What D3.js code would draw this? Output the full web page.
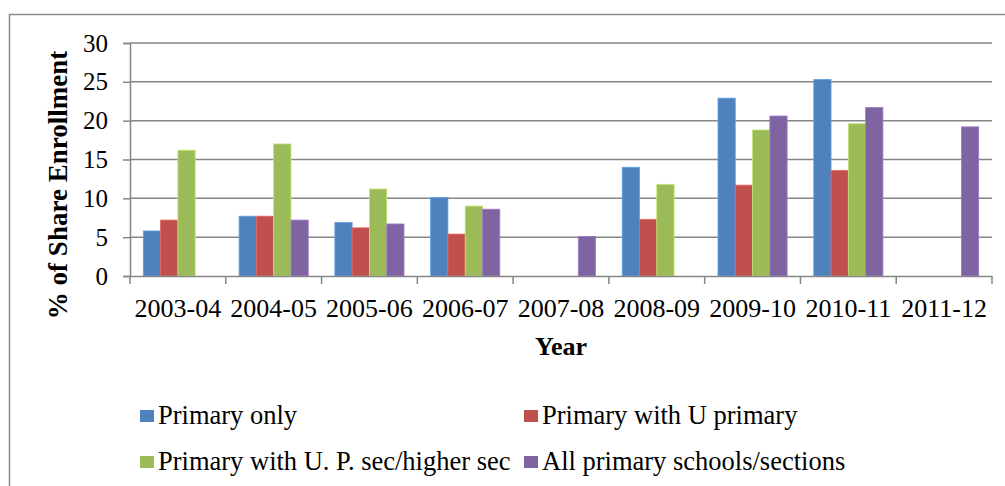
<!DOCTYPE html>
<head>
  <meta charset="utf-8">
  <script src="https://cdn.jsdelivr.net/npm/d3@7"></script>
  <style>
    body { margin:0; background:#fff; }
    text { font-family: "Liberation Serif", "Times New Roman", serif; fill:#000; }
  </style>
</head>
<body>
<script>
const years = ["2003-04","2004-05","2005-06","2006-07","2007-08","2008-09","2009-10","2010-11","2011-12"];
const seriesNames = ["Primary only","Primary with U primary","Primary with U. P. sec/higher sec","All primary schools/sections"];
const colors = ["#4F81BD","#C0504D","#9BBB59","#8064A2"];
// null = no bar for that year
const primaryOnly   = [5.8, 7.7, 6.9, 10.1, null, 14.0, 22.9, 25.3, null];
const primaryWithU  = [7.2, 7.7, 6.2, 5.4,  null, 7.3,  11.7, 13.6, null];
const primaryWithUP = [16.2, 17.0, 11.2, 9.0, null, 11.8, 18.8, 19.6, null];
const allPrimary    = [null, 7.2, 6.7, 8.6, 5.1, null, 20.6, 21.7, 19.2];
const yTicks = [0,5,10,15,20,25,30];

const series = [primaryOnly, primaryWithU, primaryWithUP, allPrimary];

const W = 1005, H = 486;
const m = {left:130, right:13, top:43, bottom:210};

const svg = d3.select("body").append("svg")
    .attr("width", W).attr("height", H);

// outer chart border
svg.append("rect")
    .attr("x", 9.5).attr("y", 14.5)
    .attr("width", W).attr("height", H)
    .attr("fill", "none").attr("stroke", "#8a8a8a").attr("stroke-width", 1.5);

const x0 = d3.scaleBand().domain(years).range([m.left, W - m.right]).paddingInner(0).paddingOuter(0);
const x1 = d3.scaleBand().domain(d3.range(4)).range([0, x0.bandwidth()]).paddingOuter(0.77).paddingInner(0);
const y = d3.scaleLinear().domain([0,30]).range([276, 43]);

// gridlines + y axis
const yAxis = svg.append("g")
    .attr("transform", `translate(${m.left},0)`)
    .call(d3.axisLeft(y).tickValues(yTicks).tickSize(7).tickPadding(15))
    .call(g => g.select(".domain").attr("stroke", "#868686").attr("stroke-width", 1.5));
yAxis.selectAll(".tick line").attr("stroke", "#868686").attr("stroke-width", 1.5);
yAxis.selectAll(".tick text").style("font-size", "25px").style("font-family", "Liberation Serif");

svg.append("g").selectAll("line")
    .data(yTicks.slice(1))
    .join("line")
    .attr("x1", m.left).attr("x2", W - m.right)
    .attr("y1", d => y(d)).attr("y2", d => y(d))
    .attr("stroke", "#868686").attr("stroke-width", 1.5);

// bars
const groups = svg.append("g").selectAll("g")
    .data(years)
    .join("g")
    .attr("transform", d => `translate(${x0(d)},0)`);

groups.selectAll("rect")
    .data((d, i) => series.map((s, k) => ({k, v: s[i]})).filter(e => e.v != null))
    .join("rect")
    .attr("x", d => x1(d.k))
    .attr("width", x1.bandwidth())
    .attr("y", d => y(d.v))
    .attr("height", d => y(0) - y(d.v))
    .attr("fill", d => colors[d.k])
    .attr("stroke", d => d3.color(colors[d.k]).brighter(0.6))
    .attr("stroke-width", 0.8);

// x axis
const xAxis = svg.append("g")
    .attr("transform", `translate(0,${y(0)})`)
    .call(d3.axisBottom(x0).tickSize(0).tickPadding(23))
    .call(g => g.select(".domain").attr("stroke", "#868686").attr("stroke-width", 1.5));
xAxis.selectAll(".tick text").style("font-size", "26px").style("font-family", "Liberation Serif");
xAxis.selectAll(".sep")
    .data(d3.range(years.length + 1))
    .join("line")
    .attr("x1", i => m.left + i * x0.step()).attr("x2", i => m.left + i * x0.step())
    .attr("y1", 0).attr("y2", 8)
    .attr("stroke", "#868686").attr("stroke-width", 1.5);

// axis titles
svg.append("text")
    .attr("x", 561).attr("y", 355)
    .attr("text-anchor", "middle")
    .style("font-size", "26px").style("font-weight", "bold")
    .text("Year");

svg.append("text")
    .attr("transform", "translate(67,185) rotate(-90)")
    .attr("text-anchor", "middle")
    .style("font-size", "27px").style("font-weight", "bold")
    .text("% of Share Enrollment");

// legend
const legendPos = [[140,424],[524,424],[140,470],[524,470]];
const legend = svg.append("g").selectAll("g")
    .data(seriesNames)
    .join("g")
    .attr("transform", (d, i) => `translate(${legendPos[i][0]},${legendPos[i][1]})`);
legend.append("rect")
    .attr("x", 0).attr("y", -14).attr("width", 14).attr("height", 12)
    .attr("fill", (d, i) => colors[i]);
legend.append("text")
    .attr("x", 18)
    .style("font-size", "26.5px")
    .text(d => d);
</script>
</body>
